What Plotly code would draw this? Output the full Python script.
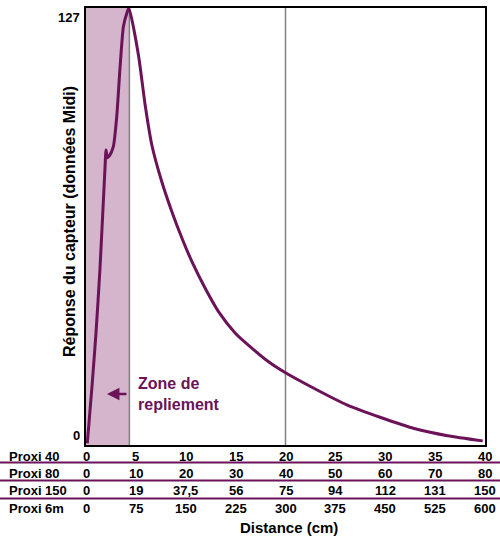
import plotly.graph_objects as go

# Courbe de réponse du capteur
distance = [0.13, 0.6, 1.0, 1.41, 1.91, 2.01, 2.15, 2.34, 2.74, 3.08, 3.42, 3.75, 4.09, 4.3,
            5.26, 5.93, 6.6, 7.6, 8.61, 9.62, 10.62, 11.96, 13.3, 14.97, 16.65, 18.3, 20.0,
            22.84, 26.2, 29.55, 32.9, 36.25, 39.77]
reponse = [0.5, 17, 32.5, 51.7, 80.8, 85.7, 83.5, 84, 86.7, 95.4, 110, 121.6, 125.5, 127,
           113.3, 98.8, 87.2, 76.5, 67.8, 60.1, 53.3, 45.5, 38.7, 32.5, 28.1, 24.2, 21.0,
           16.5, 11.6, 8.0, 4.8, 2.7, 1.2]

# Tableau des correspondances de distance
colonnes = [0, 5, 10, 15, 20, 25, 30, 35, 40]
lignes = ["Proxi 40", "Proxi 80", "Proxi 150", "Proxi 6m"]
proxi_40 = ["0", "5", "10", "15", "20", "25", "30", "35", "40"]
proxi_80 = ["0", "10", "20", "30", "40", "50", "60", "70", "80"]
proxi_150 = ["0", "19", "37,5", "56", "75", "94", "112", "131", "150"]
proxi_6m = ["0", "75", "150", "225", "300", "375", "450", "525", "600"]
ticks_y = [0, 127]
zone_repliement = 4.35

VIOLET = "#6b1259"
MAUVE = "#d4b5cb"
POLICE = "Arial, Liberation Sans, sans-serif"

fig = go.Figure()
fig.add_trace(go.Scatter(x=distance, y=reponse, mode="lines",
                         line=dict(color=VIOLET, width=3, shape="spline", smoothing=0.6),
                         showlegend=False, hoverinfo="skip"))

# zone de repliement + ligne à 20
fig.add_shape(type="rect", x0=0, x1=zone_repliement, y0=0, y1=127,
              fillcolor=MAUVE, line=dict(width=0), layer="below")
fig.add_shape(type="line", x0=zone_repliement, x1=zone_repliement, y0=0, y1=127,
              line=dict(color="#808080", width=1.5), layer="below")
fig.add_shape(type="line", x0=20, x1=20, y0=0, y1=127,
              line=dict(color="#808080", width=1.5), layer="below")

# flèche + texte
fig.add_annotation(x=2.1, y=14.8, ax=21, ay=0, axref="pixel", ayref="pixel",
                   text="", showarrow=True, arrowhead=2, arrowsize=1, arrowwidth=2.5,
                   arrowcolor=VIOLET)
fig.add_annotation(x=5.0, y=14.8, xanchor="left", yanchor="middle", align="left",
                   text="<b>Zone de<br>repliement</b>", showarrow=False,
                   font=dict(family=POLICE, size=16, color=VIOLET))

# étiquettes 0 et 127, posées à l'intérieur des bornes comme sur l'original
for v, anc in zip(ticks_y, ["bottom", "top"]):
    fig.add_annotation(x=0, xref="paper", y=v, yref="y", xanchor="right", yanchor=anc,
                       xshift=-4, text="<b>%d</b>" % v, showarrow=False,
                       font=dict(family=POLICE, size=13, color="black"))

# tableau sous le graphe
def py(p):
    return (445 - p) / 437

lignes_y = [456, 473.5, 491, 508]
valeurs = [proxi_40, proxi_80, proxi_150, proxi_6m]
for nom, ypix, vals in zip(lignes, lignes_y, valeurs):
    fig.add_annotation(x=(7 - 86) / 399, xref="paper", y=py(ypix), yref="paper",
                       xanchor="left", yanchor="middle", text="<b>" + nom + "</b>",
                       showarrow=False, font=dict(family=POLICE, size=13, color="black"))
    for c, v in zip(colonnes, vals):
        fig.add_annotation(x=c, xref="x", y=py(ypix), yref="paper",
                           xanchor="center", yanchor="middle", text="<b>" + v + "</b>",
                           showarrow=False, font=dict(family=POLICE, size=13, color="black"))

for ypix in [462.5, 480.5, 498.5]:
    fig.add_shape(type="line", xref="paper", yref="paper",
                  x0=-86 / 399, x1=1 + 15 / 399, y0=py(ypix), y1=py(ypix),
                  line=dict(color=VIOLET, width=2))

fig.add_annotation(x=(289 - 86) / 399, xref="paper", y=py(527), yref="paper",
                   xanchor="center", yanchor="middle", text="<b>Distance (cm)</b>",
                   showarrow=False, font=dict(family=POLICE, size=15, color="black"))
fig.add_annotation(x=(69 - 86) / 399, xref="paper", y=py(222), yref="paper",
                   xanchor="center", yanchor="middle",
                   text="<b>Réponse du capteur (données Midi)</b>", textangle=-90,
                   showarrow=False, font=dict(family=POLICE, size=16, color="black"))

fig.update_xaxes(range=[0, 40], showticklabels=False, showgrid=False, zeroline=False,
                 showline=True, linecolor="black", linewidth=2, mirror=True, ticks="")
fig.update_yaxes(range=[0, 127], showticklabels=False, showgrid=False, zeroline=False,
                 showline=True, linecolor="black", linewidth=2, mirror=True, ticks="")

fig.update_layout(width=500, height=541,
                  margin=dict(l=86, r=15, t=8, b=96, autoexpand=False),
                  plot_bgcolor="white", paper_bgcolor="white")

# pas de marge autour de la page, pour que la figure remplisse la fenêtre
fig.write_html("out.html", config={"displayModeBar": False},
               post_script="document.body.style.margin='0px';")
